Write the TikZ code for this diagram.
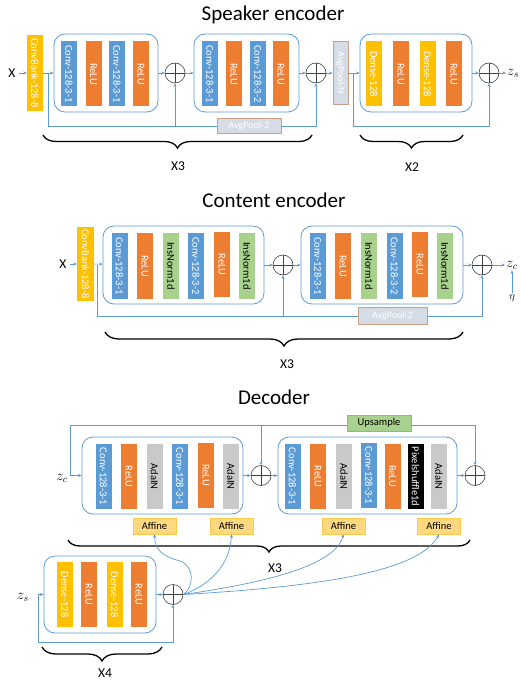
\documentclass[tikz,border=0pt]{standalone}
\usepackage{fontspec}
\setmainfont{Carlito}
\usetikzlibrary{arrows.meta,decorations.pathreplacing,calc}
\definecolor{cblue}{HTML}{5B9BD5}
\definecolor{corange}{HTML}{ED7D31}
\definecolor{cyellow}{HTML}{FFC000}
\definecolor{cgreen}{HTML}{A9D18E}
\definecolor{cgray}{HTML}{C9C9C9}
\definecolor{cpoolf}{HTML}{D6DCE5}
\definecolor{cpoold}{HTML}{C8A088}
\definecolor{caff}{HTML}{FFD97F}
\definecolor{caffd}{HTML}{FFC94D}
\definecolor{cupd}{HTML}{8CBF6A}
\tikzset{
  vbox/.style={rotate=-90, minimum width=65pt, minimum height=16pt, inner sep=0pt,
    font=\fontsize{10.5}{12}\selectfont, text=white},
  cvb/.style={vbox, fill=cblue},
  rlb/.style={vbox, fill=corange},
  dnb/.style={vbox, fill=cyellow},
  inb/.style={vbox, fill=cgreen, text=black},
  adb/.style={vbox, fill=cgray, text=black},
  pxb/.style={vbox, fill=black, text=white},
  cbank/.style={vbox, fill=cyellow},
  blk/.style={draw=cblue, line width=0.8pt, rounded corners=11pt, minimum height=78pt, inner sep=0pt},
  adder/.style={circle, draw=black!75, line width=0.6pt, fill=white, minimum size=20pt, inner sep=0pt,
    path picture={\draw[black!75, line width=0.6pt] (path picture bounding box.north) -- (path picture bounding box.south)
      (path picture bounding box.west) -- (path picture bounding box.east);}},
  conn/.style={draw=cblue, line width=0.7pt},
  arr/.style={conn, -{Stealth[length=3.5pt,width=3pt]}},
  pool/.style={fill=cpoolf, draw=cpoold, line width=0.7pt, text=white, inner sep=0pt,
    font=\fontsize{10}{12}\selectfont},
  affine/.style={fill=caff, draw=caffd, line width=0.6pt, minimum width=43pt, minimum height=16pt,
    inner sep=0pt, font=\fontsize{10.5}{12}\selectfont},
  ups/.style={fill=cgreen, draw=cupd, line width=0.6pt, minimum width=64pt, minimum height=16pt,
    inner sep=0pt, font=\fontsize{10.5}{12}\selectfont},
  brc/.style={decorate, decoration={brace, mirror, amplitude=#1}, line width=1.3pt},
  brc/.default=13pt,
  ttl/.style={font=\fontsize{21}{25}\selectfont},
  lbl/.style={font=\fontsize{13.5}{16}\selectfont},
  mlbl/.style={font=\fontsize{14}{16}\selectfont, inner sep=1pt},
}
\begin{document}
\begin{tikzpicture}[x=1pt,y=-1pt]
\useasboundingbox (0,0) rectangle (520,684);

% ================= Speaker encoder =================
\node[ttl] (t1) at (273,15) {Speaker encoder};
\node[lbl] (sx) at (12,73) {X};
\node[cbank, minimum width=76pt] (scb) at (35,73) {ConvBank-128-8};
\node[blk, minimum width=104pt] (sb1) at (106,73) {};
\node[cvb] (s11) at (69,74) {Conv-128-3-1};
\node[rlb] (s12) at (93.5,74) {ReLU};
\node[cvb] (s13) at (117,74) {Conv-128-3-1};
\node[rlb] (s14) at (141,74) {ReLU};
\node[adder] (sa1) at (175,73) {};
\node[blk, minimum width=105pt] (sb2) at (246.5,73) {};
\node[cvb] (s21) at (210,74) {Conv-128-3-1};
\node[rlb] (s22) at (234,74) {ReLU};
\node[cvb] (s23) at (258,74) {Conv-128-3-2};
\node[rlb] (s24) at (281,74) {ReLU};
\node[adder] (sa2) at (316,73) {};
\node[pool, rotate=-90, minimum width=63pt, minimum height=15pt] (sapn) at (340.5,73) {AvgPool-N};
\node[blk, minimum width=112pt] (sb3) at (416,73) {};
\node[dnb] (s31) at (374,74) {Dense-128};
\node[rlb] (s32) at (401,74) {ReLU};
\node[dnb] (s33) at (427.5,74) {Dense-128};
\node[rlb] (s34) at (454,74) {ReLU};
\node[adder] (sa3) at (489,73) {};
\node[mlbl, anchor=west] (szs) at (506,73) {$z_s$};
\node[pool, minimum width=64pt, minimum height=15pt] (sap2) at (249,126) {AvgPool-2};

\draw[arr] (sx) -- (scb);
\draw[arr] (scb) -- (sb1);
\draw[arr] (sb1) -- (sa1);
\draw[arr] (sa1) -- (sb2);
\draw[arr] (sb2) -- (sa2);
\draw[arr] (sa2) -- (sapn);
\draw[arr] (sapn) -- (sb3);
\draw[arr] (sb3) -- (sa3);
\draw[arr] (sa3) -- (szs);
\coordinate (ss0) at (48,73);
\coordinate (ss1) at (48,126);
\draw[arr] (ss0) -- (ss1) -| (sa1.south);
\draw[conn] (sa1.south |- ss1) -- (sap2.west);
\draw[arr] (sap2.east) -| (sa2.south);
\coordinate (ss2) at (353,73);
\draw[arr] (ss2) -- (ss2 |- ss1) -| (sa3.south);

\draw[brc] (43,135) -- (312,135);
\node[lbl] (sx3) at (178,166) {X3};
\draw[brc] (360,135) -- (463,135);
\node[lbl] (sx2) at (412,167) {X2};

% ================= Content encoder =================
\node[ttl] (t2) at (274,200) {Content encoder};
\node[lbl] (cx) at (63,264) {X};
\node[cbank, minimum width=73pt, minimum height=17pt] (ccb) at (85.5,264) {ConvBank-128-8};
\node[blk, minimum width=161pt] (cb1) at (183.5,265) {};
\node[cvb] (c11) at (119.5,266) {Conv-128-3-1};
\node[rlb] (c12) at (145,266) {ReLU};
\node[inb] (c13) at (171,266) {InsNorm1d};
\node[cvb] (c14) at (196,266) {Conv-128-3-2};
\node[rlb] (c15) at (222,264.5) {ReLU};
\node[inb] (c16) at (247,266) {InsNorm1d};
\node[adder] (ca1) at (283,265) {};
\node[blk, minimum width=162pt] (cb2) at (382,265) {};
\node[cvb] (c21) at (318,266) {Conv-128-3-1};
\node[rlb] (c22) at (343,266) {ReLU};
\node[inb] (c23) at (369,266) {InsNorm1d};
\node[cvb] (c24) at (394.5,266) {Conv-128-3-2};
\node[rlb] (c25) at (420,264.5) {ReLU};
\node[inb] (c26) at (445,266) {InsNorm1d};
\node[adder] (ca2) at (482,265) {};
\node[mlbl, anchor=west] (czc) at (505,265) {$z_c$};
\node[font=\fontsize{11}{12}\selectfont, inner sep=1pt] (ceta) at (512,298) {$\eta$};
\node[pool, minimum width=69pt, minimum height=17pt] (cap) at (392.5,316) {AvgPool-2};

\draw[arr] (cx) -- (ccb);
\draw[arr] (ccb) -- (cb1);
\draw[arr] (cb1) -- (ca1);
\draw[arr] (ca1) -- (cb2);
\draw[arr] (cb2) -- (ca2);
\draw[arr] (ca2) -- (czc);
\draw[arr] (ceta.north) -- (ceta.north |- czc.south);
\coordinate (cs0) at (97,265);
\coordinate (cs1) at (97,316);
\draw[arr] (cs0) -- (cs1) -| (ca1.south);
\draw[conn] (ca1.south |- cs1) -- (cap.west);
\draw[arr] (cap.east) -| (ca2.south);

\draw[brc=14pt] (105,332) -- (463,332);
\node[lbl] (cx3) at (287,364) {X3};

% ================= Decoder =================
\node[ttl] (t3) at (274,397) {Decoder};
\node[mlbl] (dzc) at (62,478) {$z_c$};
\node[blk, minimum width=161pt, minimum height=77pt] (db1) at (162.5,475.5) {};
\node[cvb] (d11) at (103.5,476.5) {Conv-128-3-1};
\node[rlb] (d12) at (129,476.5) {ReLU};
\node[adb] (d13) at (154.5,476.5) {AdaIN};
\node[cvb] (d14) at (180,476.5) {Conv-128-3-1};
\node[rlb] (d15) at (206,475) {ReLU};
\node[adb] (d16) at (231,476.5) {AdaIN};
\node[adder] (da1) at (261,475.5) {};
\node[blk, minimum width=179pt, minimum height=77pt] (db2) at (367.5,475.5) {};
\node[cvb] (d21) at (292.5,476.5) {Conv-128-3-1};
\node[rlb] (d22) at (318,476.5) {ReLU};
\node[adb] (d23) at (344,476.5) {AdaIN};
\node[cvb] (d24) at (369,475.5) {Conv-128-3-1};
\node[rlb] (d25) at (392.5,476) {ReLU};
\node[pxb] (d26) at (415.5,476.5) {Pixelshuffle1d};
\node[adb] (d27) at (439,476.5) {AdaIN};
\node[adder] (da2) at (475,475.5) {};
\node[ups] (dup) at (379,423) {Upsample};

\coordinate (dd0) at (70,475.5);
\coordinate (dd1) at (70,425);
\draw[arr] (dd0) -- (db1);
\draw[arr] (db1) -- (da1);
\draw[arr] (da1) -- (db2);
\draw[arr] (db2) -- (da2);
\draw[conn] (dd0) -- (dd1) -- (dup.west |- dd1);
\draw[arr] (dup.east |- dd1) -| (da2.north);
\draw[arr] (da1.north |- dd1) -- (da1.north);

\node[affine] (af1) at (154.5,526) {Affine};
\node[affine] (af2) at (231.5,526) {Affine};
\node[affine] (af3) at (343.5,526) {Affine};
\node[affine] (af4) at (439,526) {Affine};

\draw[brc=12pt] (68,540) -- (470,540);
\node[lbl] (dx3) at (275,568) {X3};

\node[blk, minimum width=112pt, minimum height=77pt] (db3) at (100,594.5) {};
\node[dnb] (d31) at (65,594.5) {Dense-128};
\node[rlb] (d32) at (89,594.5) {ReLU};
\node[dnb] (d33) at (114.5,594.5) {Dense-128};
\node[rlb] (d34) at (139,594.5) {ReLU};
\node[adder] (da3) at (173,594.5) {};
\node[mlbl] (dzs) at (23,597) {$z_s$};

\coordinate (de0) at (38,594.5);
\coordinate (de1) at (38,642);
\draw[arr] (de0) -- (db3);
\draw[arr] (db3) -- (da3);
\draw[arr] (de0) -- (de1) -| (da3.south);

\draw[arr] (da3.east) .. controls (194,588) and (195,566) .. (180,561)
  .. controls (162,556) and (155,550) .. (af1.south);
\draw[arr] (da3.east) .. controls (210,585) and (230,565) .. (af2.south);
\draw[arr] (da3.east) .. controls (270,582) and (335,565) .. (af3.south);
\draw[arr] (da3.east) .. controls (330,586) and (420,570) .. (af4.south);

\draw[brc=14pt] (42,647) -- (162,647);
\node[lbl] (dx4) at (105,673) {X4};
\end{tikzpicture}
\end{document}
